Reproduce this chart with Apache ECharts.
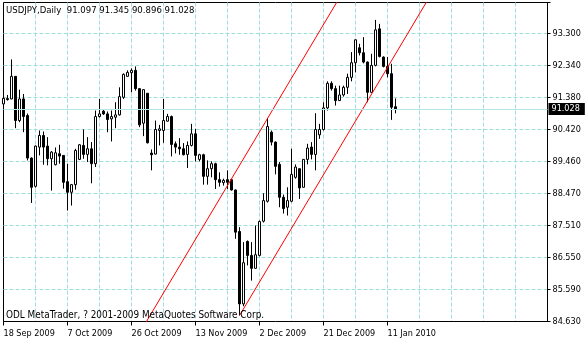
<!DOCTYPE html>
<html>
<head>
<meta charset="utf-8">
<title>USDJPY Daily</title>
<script src="https://cdn.jsdelivr.net/npm/echarts@6/dist/echarts.min.js"></script>
<style>
  html, body { margin: 0; padding: 0; background: #fff; }
  #chart { width: 586px; height: 340px; }
</style>
</head>
<body>
<div id="chart"></div>
<script>
const symbol = 'USDJPY';
const period = 'Daily';
const copyright = 'ODL MetaTrader, ? 2001-2009 MetaQuotes Software Corp.';

// one label every 16 bars (sunday bars included)
const dateLabels = ['18 Sep 2009', '7 Oct 2009', '26 Oct 2009', '13 Nov 2009', '2 Dec 2009', '21 Dec 2009', '11 Jan 2010'];
const labelEvery = 16;
const gridEvery = 8;

const priceLabels = ['84.630', '85.590', '86.550', '87.510', '88.470', '89.460', '90.420', '91.380', '92.340', '93.300'];

const opens = [
  91.18, 91.34, 91.33, 92.01, 90.68, 91.33, 90.83, 89.55, 88.70, 89.88,
  90.23, 89.91, 89.53, 89.35, 89.68, 89.63, 88.84, 88.52, 88.75, 89.51,
  89.93, 89.66, 89.83, 89.38, 90.80, 90.96, 90.88, 90.73, 90.78, 90.85,
  91.38, 92.01, 92.12, 92.19, 91.64, 90.60, 91.50, 89.70, 89.67, 90.38,
  90.38, 90.66, 90.80, 89.98, 89.88, 89.83, 89.66, 89.93, 90.28, 89.51,
  89.65, 89.00, 89.23, 89.38, 88.90, 88.81, 88.90, 88.90, 88.59, 87.34,
  85.16, 87.04, 86.62, 86.23, 86.62, 87.65, 88.25, 90.33, 90.03, 89.36,
  88.37, 88.07, 88.25, 88.97, 89.23, 88.67, 89.51, 89.88, 89.66, 90.25,
  90.41, 91.06, 91.80, 91.64, 91.28, 91.45, 91.68, 91.98, 92.42, 92.87,
  92.72, 92.44, 91.53, 92.34, 93.44, 92.59, 92.31, 92.09, 91.097
];
const highs = [
  91.53, 91.45, 92.52, 92.02, 91.61, 91.48, 90.89, 89.57, 89.93, 90.38,
  90.35, 90.18, 89.76, 89.87, 89.95, 89.63, 89.38, 88.77, 89.83, 89.97,
  90.41, 90.18, 90.03, 90.98, 91.33, 91.00, 90.95, 90.98, 91.23, 91.68,
  92.10, 92.19, 92.25, 92.31, 91.64, 91.61, 91.51, 89.81, 90.68, 90.55,
  91.33, 90.88, 90.83, 90.05, 90.15, 90.00, 90.05, 90.58, 90.43, 89.68,
  89.68, 89.48, 89.45, 89.41, 89.12, 88.93, 89.18, 88.93, 88.60, 87.47,
  87.02, 87.07, 87.02, 87.52, 87.67, 88.49, 90.76, 90.38, 90.05, 89.43,
  88.45, 88.67, 89.83, 89.36, 89.24, 89.51, 89.98, 90.03, 90.90, 90.58,
  91.23, 91.86, 91.86, 91.73, 91.73, 91.73, 92.09, 92.74, 93.12, 92.99,
  93.19, 92.46, 92.69, 93.71, 93.59, 92.61, 92.59, 92.39, 91.345
];
const lows = [
  90.98, 91.28, 91.32, 90.45, 90.63, 90.33, 89.48, 88.20, 88.66, 89.63,
  89.35, 89.33, 88.57, 89.33, 89.38, 88.63, 87.97, 88.12, 88.60, 89.49,
  89.53, 89.43, 88.79, 89.28, 90.77, 90.85, 90.33, 90.05, 90.45, 90.83,
  91.33, 92.00, 91.53, 91.58, 90.48, 90.21, 89.99, 89.18, 89.66, 89.93,
  90.01, 90.65, 89.60, 89.69, 89.65, 89.63, 89.25, 89.90, 89.45, 89.45,
  88.75, 88.75, 88.97, 88.62, 88.69, 88.72, 88.62, 88.57, 87.12, 84.81,
  85.09, 86.32, 85.86, 86.22, 86.59, 87.61, 88.21, 89.93, 89.06, 88.07,
  87.88, 87.82, 88.22, 88.93, 88.32, 88.66, 89.36, 89.51, 89.18, 90.13,
  90.38, 90.98, 91.58, 91.13, 91.27, 91.40, 91.48, 91.86, 92.13, 92.64,
  92.40, 91.23, 91.52, 92.31, 92.58, 92.28, 91.98, 90.70, 90.896
];
const closes = [
  91.35, 91.31, 92.01, 90.68, 91.33, 90.80, 89.55, 88.67, 89.91, 90.23,
  89.88, 89.53, 89.73, 89.71, 89.61, 88.82, 88.52, 88.75, 89.78, 89.95,
  89.66, 89.83, 89.38, 90.80, 90.88, 90.88, 90.71, 90.80, 90.85, 91.40,
  92.07, 92.13, 92.19, 91.64, 90.55, 91.61, 90.01, 89.65, 90.41, 90.43,
  90.68, 90.80, 89.96, 89.88, 89.83, 89.65, 89.93, 90.28, 89.63, 89.65,
  89.00, 89.23, 89.38, 88.90, 88.82, 88.88, 88.82, 88.59, 87.32, 85.16,
  86.40, 86.62, 86.23, 86.64, 87.64, 88.27, 90.50, 90.03, 89.30, 88.37,
  88.03, 88.27, 89.06, 89.28, 88.65, 89.51, 89.85, 89.66, 90.41, 90.41,
  91.06, 91.80, 91.64, 91.28, 91.45, 91.68, 91.98, 92.42, 93.11, 92.72,
  92.44, 91.53, 92.34, 93.41, 92.61, 92.31, 92.09, 91.08, 91.028
];

// channel drawn by hand on the chart: [bar index, price]
const upperChannel = [[35, 84.48], [85, 94.58]];
const lowerChannel = [[59, 84.81], [107, 94.50]];

const base = 84.63;                 // bottom grid line
const step = (93.3 - 84.63) / 9;    // one grid row
const slots = 137;                  // bar slots visible in the window
const fontFamily = "'DejaVu Sans Condensed', 'DejaVu Sans', sans-serif";
const gridColor = '#a0dcdc';

const categories = [];
for (let i = 0; i < slots; i++) {
  const k = i / labelEvery;
  categories.push(i % labelEvery === 0 && dateLabels[k] ? dateLabels[k] : 'b' + i);
}
const candles = opens.map((o, i) => [o - base, closes[i] - base, lows[i] - base, highs[i] - base]);
const rel = pts => pts.map(p => [p[0], p[1] - base]);
const last = opens.length - 1;
const header = symbol + ',' + period + '  ' +
  [opens[last], highs[last], lows[last], closes[last]].map(v => v.toFixed(3)).join(' ');
const isLabelBar = idx => idx % labelEvery === 0 && idx / labelEvery < dateLabels.length;
const textStyle = { fontSize: 9.5, fontWeight: 'normal', color: '#000', fontFamily };
const gridLine = { color: gridColor, type: [4, 2], width: 1 };

const chart = echarts.init(document.getElementById('chart'));
chart.setOption({
  animation: false,
  backgroundColor: '#fff',
  title: [
    { text: header, left: 6, top: 6, padding: 0, textStyle },
    { text: copyright, left: 6, top: 310, padding: 0, textStyle: Object.assign({}, textStyle, { fontSize: 9.9 }) }
  ],
  grid: { left: 3.5, right: 38.5, top: 2.5, bottom: 18.5, show: true, borderColor: '#000', borderWidth: 1, backgroundColor: '#fff' },
  xAxis: {
    type: 'category',
    data: categories,
    boundaryGap: false,
    axisLine: { lineStyle: { color: '#000', width: 1 } },
    axisTick: { show: true, length: 4, interval: isLabelBar, lineStyle: { color: '#000' } },
    axisLabel: { interval: isLabelBar, align: 'left', margin: 8, color: '#000', fontSize: 9, fontFamily },
    splitLine: { show: true, interval: idx => idx > 0 && idx % gridEvery === 0, lineStyle: gridLine }
  },
  yAxis: {
    type: 'value',
    position: 'right',
    min: 0,
    max: 9.6032,
    interval: step,
    axisLine: { show: true, lineStyle: { color: '#000', width: 1 } },
    axisTick: { show: true, length: 3, lineStyle: { color: '#000' } },
    axisLabel: {
      margin: 5, color: '#000', fontSize: 9, fontFamily,
      formatter: v => {
        const k = Math.round(v / step);
        return Math.abs(v - k * step) < 1e-4 && priceLabels[k] ? priceLabels[k] : '';
      }
    },
    splitLine: { show: true, showMaxLine: false, lineStyle: gridLine }
  },
  series: [
    {
      type: 'candlestick',
      data: candles,
      barWidth: 2,
      itemStyle: { color: '#fff', color0: '#000', borderColor: '#000', borderColor0: '#000', borderWidth: 1 },
      markLine: {
        silent: true,
        symbol: 'none',
        lineStyle: { color: '#b4e6e6', type: 'solid', width: 1 },
        label: {
          position: 'end', distance: 1, color: '#fff', backgroundColor: '#000',
          padding: [2, 5, 1, 3], fontSize: 9, fontFamily,
          formatter: () => closes[last].toFixed(3)
        },
        data: [{ yAxis: closes[last] - base }]
      }
    },
    { type: 'line', data: rel(upperChannel), symbol: 'none', lineStyle: { color: '#ff0000', width: 1 }, silent: true },
    { type: 'line', data: rel(lowerChannel), symbol: 'none', lineStyle: { color: '#ff0000', width: 1 }, silent: true }
  ]
});
</script>
</body>
</html>
